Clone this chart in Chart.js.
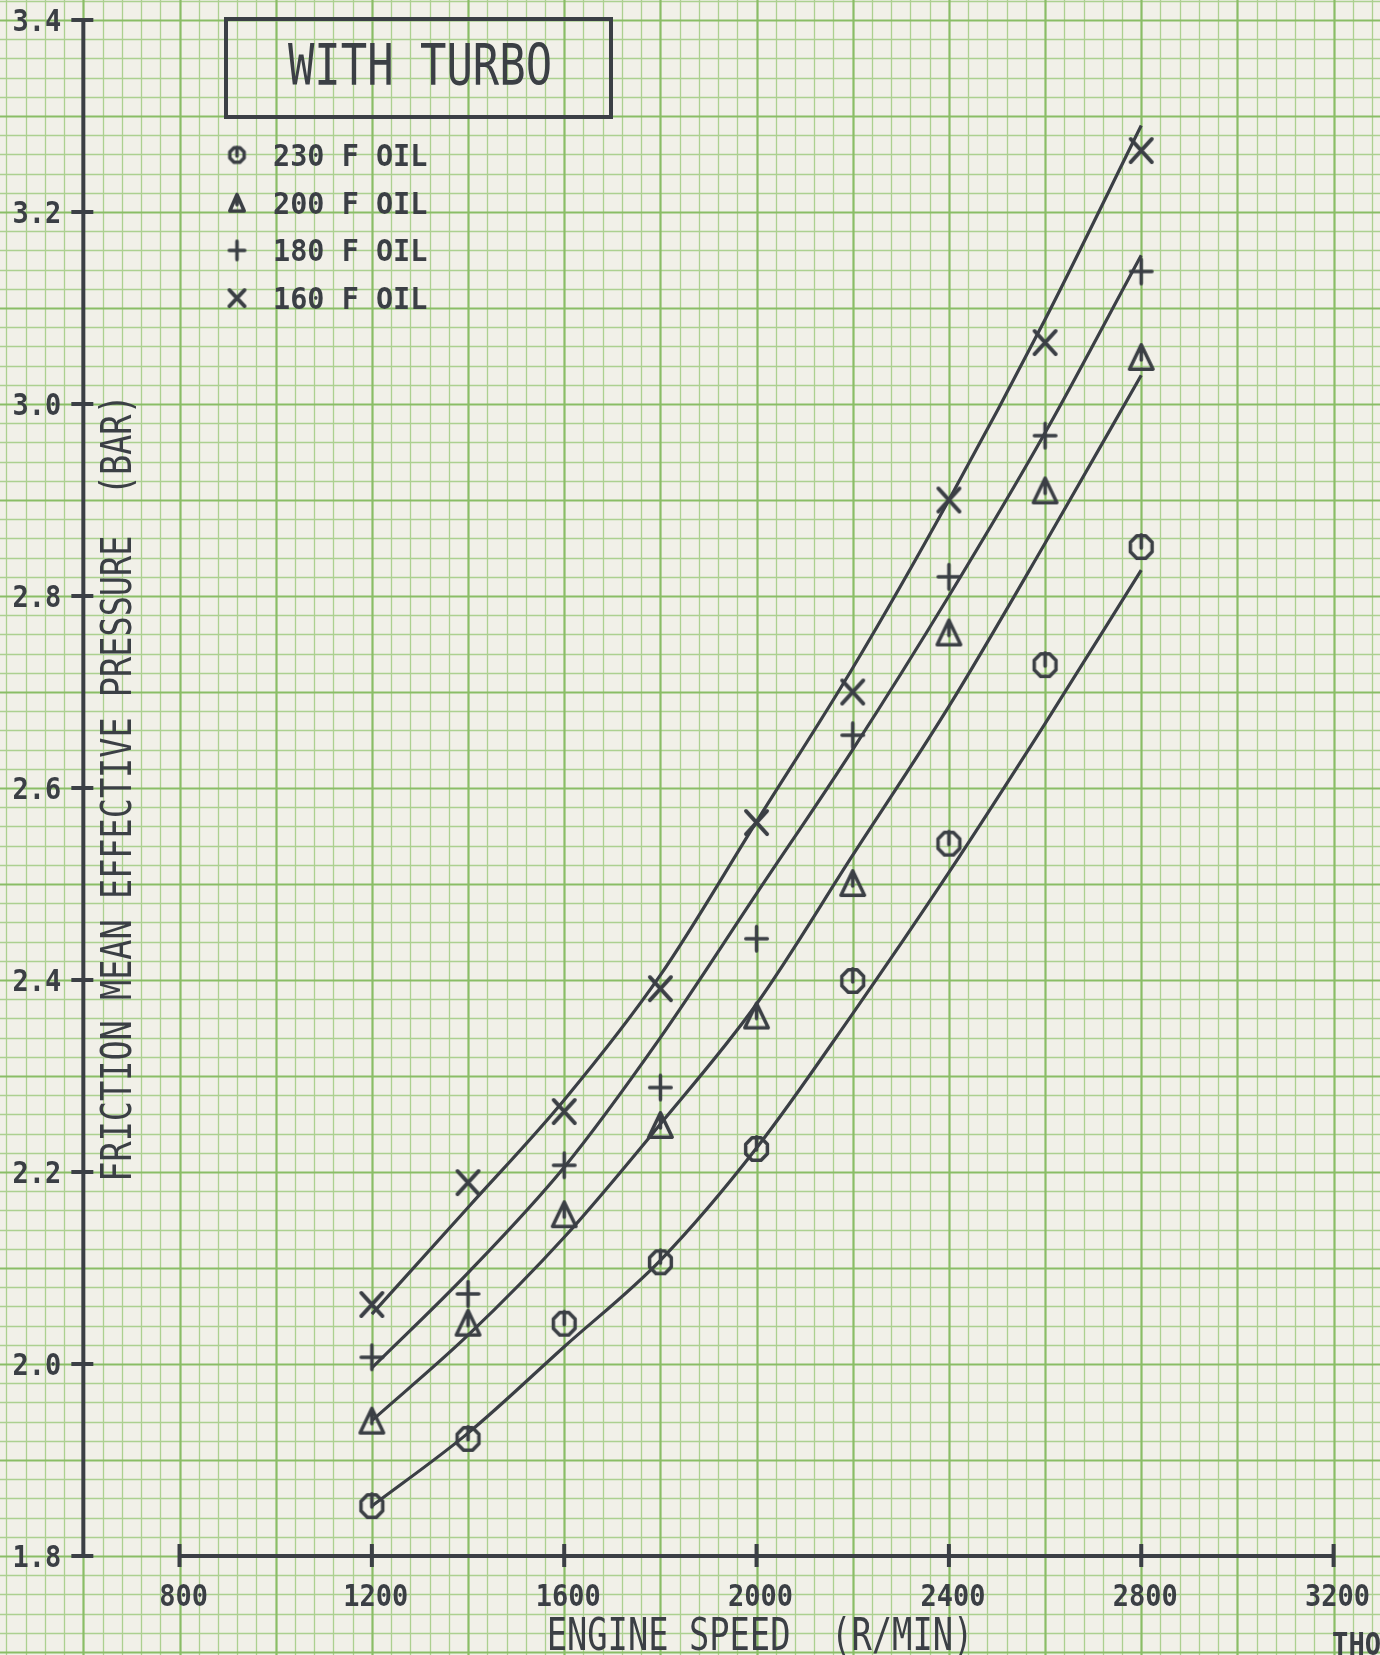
<!DOCTYPE html>
<html><head><meta charset="utf-8">
<script src="https://cdn.jsdelivr.net/npm/chart.js@4.4.0/dist/chart.umd.min.js"></script>
<style>html,body{margin:0;padding:0;background:#f1f0e8;}canvas{display:block}</style>
</head><body>
<canvas id="c" width="1380" height="1655" style="width:1380px;height:1655px"></canvas>
<script>
// ---- data ----
const speeds = [1200, 1400, 1600, 1800, 2000, 2200, 2400, 2600, 2800];
const oil230 = [1.852, 1.922, 2.042, 2.106, 2.224, 2.399, 2.542, 2.728, 2.851];
const oil200 = [1.941, 2.043, 2.156, 2.249, 2.363, 2.501, 2.762, 2.910, 3.049];
const oil180 = [2.007, 2.073, 2.207, 2.288, 2.443, 2.655, 2.820, 2.967, 3.138];
const oil160 = [2.062, 2.189, 2.263, 2.391, 2.564, 2.700, 2.900, 3.064, 3.264];
// hand-drawn fitted curves
const fit230 = [1.852, 1.928, 2.018, 2.108, 2.225, 2.365, 2.512, 2.667, 2.827];
const fit200 = [1.941, 2.030, 2.132, 2.250, 2.375, 2.530, 2.685, 2.855, 3.030];
const fit180 = [1.996, 2.095, 2.205, 2.340, 2.490, 2.640, 2.800, 2.970, 3.155];
const fit160 = [2.052, 2.163, 2.275, 2.405, 2.565, 2.725, 2.900, 3.088, 3.290];
const xTickLabels = [800, 1200, 1600, 2000, 2400, 2800, 3200];
const yTickLabels = [1.8, 2.0, 2.2, 2.4, 2.6, 2.8, 3.0, 3.2, 3.4];
const legendLabels = ['230 F OIL', '200 F OIL', '180 F OIL', '160 F OIL'];
const titleText = 'WITH TURBO';
const xTitle = 'ENGINE SPEED  (R/MIN)';
const yTitle = 'FRICTION MEAN EFFECTIVE PRESSURE  (BAR)';
const cornerText = 'THO';

const INK = '#3b3f45';
const PAPER = '#f1f0e8';
const GRID_THIN = '#acd090';
const GRID_HEAVY = '#8abd66';

// ---- markers ----
function makeMarker(kind, w, h, lw) {
  const pad = 4;
  const c = document.createElement('canvas');
  c.width = Math.round(w + pad * 2); c.height = Math.round(h + pad * 2);
  const g = c.getContext('2d');
  g.strokeStyle = INK; g.lineWidth = lw; g.lineCap = 'round'; g.lineJoin = 'round';
  const mx = c.width / 2, my = c.height / 2, rx = w / 2 - lw / 2, ry = h / 2 - lw / 2;
  g.beginPath();
  if (kind === 'circle') {
    for (let k = 0; k <= 8; k++) {
      const a = Math.PI / 8 + k * Math.PI / 4;
      const px = mx + rx * Math.cos(a), py = my + ry * Math.sin(a);
      if (k === 0) g.moveTo(px, py); else g.lineTo(px, py);
    }
    g.moveTo(mx, my - ry); g.lineTo(mx, my + 1);
  } else if (kind === 'triangle') {
    g.moveTo(mx, my - ry); g.lineTo(mx + rx, my + ry); g.lineTo(mx - rx, my + ry); g.closePath();
    g.moveTo(mx, my - ry); g.lineTo(mx, my + ry * 0.25);
  } else if (kind === 'plus') {
    g.moveTo(mx - rx, my); g.lineTo(mx + rx, my);
    g.moveTo(mx, my - ry); g.lineTo(mx, my + ry);
  } else {
    g.moveTo(mx - rx, my - ry); g.lineTo(mx + rx, my + ry);
    g.moveTo(mx + rx, my - ry); g.lineTo(mx - rx, my + ry);
  }
  g.stroke();
  return c;
}
const plotMarkers = [makeMarker('circle', 27, 28, 3.5), makeMarker('triangle', 27, 28, 3.5),
                     makeMarker('plus', 25, 28, 3.5), makeMarker('x', 25, 27, 3.8)];
const legendMarkers = [makeMarker('circle', 19, 19, 3.5), makeMarker('triangle', 18, 20, 3.5),
                       makeMarker('plus', 19, 22, 3.5), makeMarker('x', 19, 20, 3.8)];

const pts = arr => speeds.map((s, i) => ({ x: s, y: arr[i] }));
const series = [oil230, oil200, oil180, oil160];
const fits = [fit230, fit200, fit180, fit160];

const datasets = [];
fits.forEach(f => datasets.push({
  data: pts(f), showLine: true, borderColor: INK, borderWidth: 3.2,
  pointRadius: 0, cubicInterpolationMode: 'monotone', fill: false
}));
series.forEach((s, i) => datasets.push({
  data: pts(s), showLine: false, pointStyle: plotMarkers[i], pointRadius: 12
}));

// grid positions of the graph paper
const gridX = []; for (let k = 11; k <= 82; k++) gridX.push(k * 40);
const gridY = []; for (let k = 85; k <= 171; k++) gridY.push(k / 50);

function txt(ctx, s, x, y, size, bold, sx, align, rot) {
  ctx.save();
  ctx.translate(x, y);
  if (rot) ctx.rotate(rot);
  ctx.scale(sx, 1);
  ctx.font = (bold ? 'bold ' : '') + size + 'px "DejaVu Sans Mono"';
  ctx.fillStyle = INK;
  ctx.textAlign = align; ctx.textBaseline = 'alphabetic';
  ctx.fillText(s, 0, 0);
  ctx.restore();
}

const paper = {
  id: 'paper',
  beforeDatasetsDraw(chart) {
    const ctx = chart.ctx, xs = chart.scales.x, ys = chart.scales.y;
    ctx.save();
    ctx.fillStyle = PAPER; ctx.fillRect(0, 0, chart.width, chart.height);
    const line = (x1, y1, x2, y2, heavy) => {
      ctx.strokeStyle = heavy ? GRID_HEAVY : GRID_THIN;
      ctx.lineWidth = heavy ? 2.2 : 1.3;
      ctx.beginPath(); ctx.moveTo(x1, y1); ctx.lineTo(x2, y2); ctx.stroke();
    };
    [false, true].forEach(pass => {
      gridX.forEach(v => {
        const heavy = v % 200 === 0;
        if (heavy !== pass) return;
        const p = Math.round(xs.getPixelForValue(v)) + 0.5;
        line(p, 0, p, chart.height, heavy);
      });
      gridY.forEach(v => {
        const heavy = Math.round(v * 50) % 5 === 0;
        if (heavy !== pass) return;
        const p = Math.round(ys.getPixelForValue(v)) + 0.5;
        line(0, p, chart.width, p, heavy);
      });
    });
    ctx.restore();
  },
  afterDraw(chart) {
    const ctx = chart.ctx, xs = chart.scales.x, ys = chart.scales.y;
    ctx.save();
    ctx.strokeStyle = INK; ctx.lineWidth = 4; ctx.lineCap = 'butt';
    // y axis
    const ax = xs.getPixelForValue(600);
    ctx.beginPath();
    ctx.moveTo(ax, ys.getPixelForValue(yTickLabels[0]) + 2);
    ctx.lineTo(ax, ys.getPixelForValue(yTickLabels[yTickLabels.length - 1]) - 2);
    ctx.stroke();
    yTickLabels.forEach(v => {
      const p = ys.getPixelForValue(v);
      ctx.beginPath(); ctx.moveTo(ax - 12, p); ctx.lineTo(ax + 10, p); ctx.stroke();
      txt(ctx, v.toFixed(1), ax - 22, p + 11, 30, true, 0.9, 'right');
    });
    // x axis
    const ay = ys.getPixelForValue(1.8);
    ctx.beginPath();
    ctx.moveTo(xs.getPixelForValue(xTickLabels[0]), ay);
    ctx.lineTo(xs.getPixelForValue(xTickLabels[xTickLabels.length - 1]), ay);
    ctx.stroke();
    xTickLabels.forEach(v => {
      const p = xs.getPixelForValue(v);
      ctx.beginPath(); ctx.moveTo(p, ay - 12); ctx.lineTo(p, ay + 11); ctx.stroke();
      txt(ctx, String(v), p + 4, ay + 50, 30, true, 0.9, 'center');
    });
    // axis titles
    txt(ctx, xTitle, 760, 1650, 45, false, 0.75, 'center');
    txt(ctx, yTitle, 131, 788, 43, false, 0.78, 'center', -Math.PI / 2);
    txt(ctx, cornerText, 1332, 1655, 32, true, 0.85, 'left');
    // title box
    ctx.lineWidth = 4;
    ctx.strokeRect(226, 19, 385, 98);
    txt(ctx, titleText, 420, 85, 57, false, 0.77, 'center');
    // legend
    legendLabels.forEach((l, i) => {
      const cy = 155 + i * 47.7;
      const m = legendMarkers[i];
      ctx.drawImage(m, 237 - m.width / 2, cy - m.height / 2);
      txt(ctx, l, 273, cy + 11, 30, true, 0.95, 'left');
    });
    ctx.restore();
  }
};

new Chart(document.getElementById('c'), {
  type: 'scatter',
  data: { datasets },
  plugins: [paper],
  options: {
    responsive: false, animation: false, devicePixelRatio: 1,
    events: [],
    layout: { padding: 0, autoPadding: false },
    plugins: { legend: { display: false }, tooltip: { enabled: false } },
    scales: {
      x: { type: 'linear', display: false, min: 426.7, max: 3296.5 },
      y: { type: 'linear', display: false, min: 1.6969, max: 3.4208 }
    }
  }
});
</script>
</body></html>
